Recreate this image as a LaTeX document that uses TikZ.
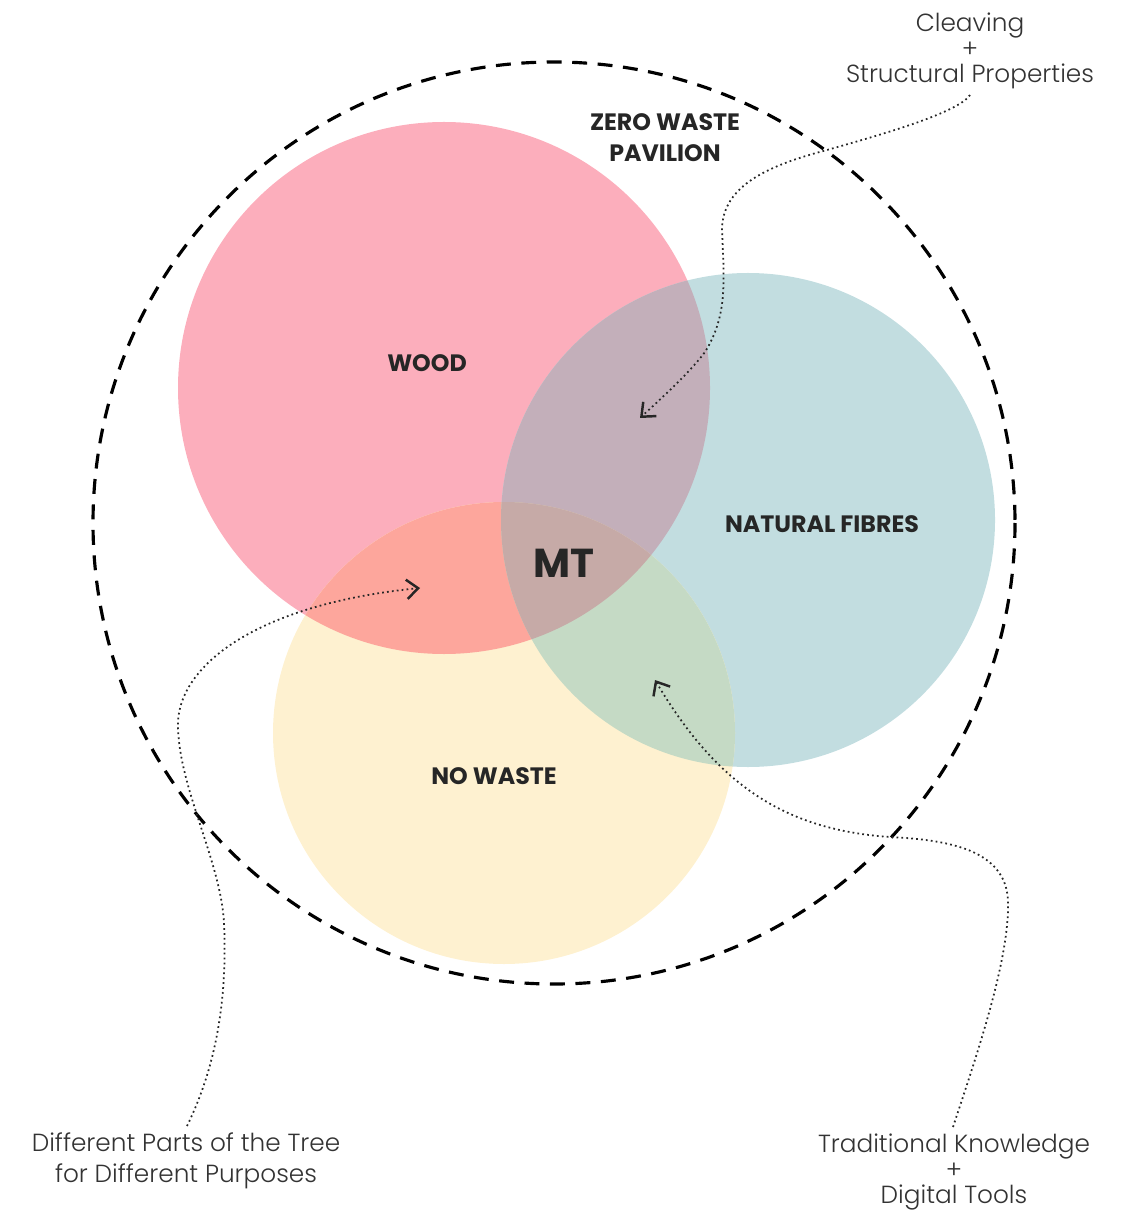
\documentclass[tikz,border=0pt]{standalone}
\usepackage{fontspec}
\setmainfont{Poppins}
\newfontfamily\lightf{Poppins Light}
\usetikzlibrary{arrows.meta}
\definecolor{pinkC}{HTML}{FCAEBC}
\definecolor{blueC}{HTML}{C2DDE0}
\definecolor{yellowC}{HTML}{FEF1D0}
\definecolor{pbC}{HTML}{C3AFBA}
\definecolor{pyC}{HTML}{FDA69C}
\definecolor{byC}{HTML}{C5DAC5}
\definecolor{pbyC}{HTML}{C6AAA7}
\definecolor{ink}{HTML}{262626}
\definecolor{ink2}{HTML}{333333}
\tikzset{
  lbl/.style={font=\bfseries\fontsize{13.5}{17.6}\selectfont, text=ink, align=center, inner sep=0pt},
  bigl/.style={font=\bfseries\fontsize{23}{26}\selectfont, text=ink, inner sep=0pt},
  note/.style={font=\lightf\fontsize{14.1}{14.7}\selectfont, text=ink2, align=center, inner sep=0pt},
  widenote/.style={note, font=\lightf\fontsize{14.1}{17.6}\selectfont},
  pointer/.style={draw=ink, line width=1pt, dash pattern=on 1pt off 1.8pt,
    -{Straight Barb[length=6.5pt,width=11pt,line width=1.4pt]}},
  boundary/.style={draw=black, line width=1.8pt, dash pattern=on 8.5pt off 6pt}
}
\begin{document}
\begin{tikzpicture}[x=0.02cm,y=-0.02cm]
\useasboundingbox (0,0) rectangle (1129,1212);
% base circles
\fill[pinkC] (444,388) circle[radius=266];
\fill[blueC] (748,520) circle[radius=247];
\fill[yellowC] (504,733) circle[radius=231];
% overlaps
\begin{scope}
  \clip (444,388) circle[radius=266];
  \fill[pbC] (748,520) circle[radius=247];
  \fill[pyC] (504,733) circle[radius=231];
\end{scope}
\begin{scope}
  \clip (748,520) circle[radius=247];
  \fill[byC] (504,733) circle[radius=231];
\end{scope}
\begin{scope}
  \clip (444,388) circle[radius=266];
  \clip (748,520) circle[radius=247];
  \fill[pbyC] (504,733) circle[radius=231];
\end{scope}
% dashed boundary
\draw[boundary] (554,523) circle[radius=461];
% labels
\node[lbl] (zw) at (665,138) {ZERO WASTE\\PAVILION};
\node[lbl] (wood) at (427,363) {WOOD};
\node[lbl] (nf) at (822,524) {NATURAL FIBRES};
\node[lbl] (nw) at (494,776) {NO WASTE};
\node[bigl] (mt) at (564,563) {MT};
% notes
\node[note] (cleave) at (970,51) {Cleaving\\+\\Structural Properties};
\node[widenote] (parts) at (186,1161) {Different Parts of the Tree\\for Different Purposes};
\node[note] (trad) at (954,1172) {Traditional Knowledge\\+\\Digital Tools};
% pointer ends
\coordinate (c1s) at (970,95);
\coordinate (c1e) at (640,418);
\coordinate (c2s) at (187,1126);
\coordinate (c2e) at (420,588);
\coordinate (c3s) at (953,1127);
\coordinate (c3e) at (655,680);
% pointers
\draw[pointer] (c1s) .. controls (958,113) and (880,135) .. (827,150)
  .. controls (770,165) and (722,185) .. (722,230)
  .. controls (724,280) and (728,315) .. (705,352)
  .. controls (690,372) and (665,395) .. (c1e);
\draw[pointer] (c2s) .. controls (212,1075) and (228,1010) .. (224,922)
  .. controls (220,860) and (180,790) .. (178,728)
  .. controls (175,670) and (250,605) .. (c2e);
\draw[pointer] (c3s) .. controls (975,1060) and (1010,960) .. (1008,900)
  .. controls (1005,850) and (950,840) .. (890,837)
  .. controls (790,830) and (720,790) .. (c3e);
\end{tikzpicture}
\end{document}
